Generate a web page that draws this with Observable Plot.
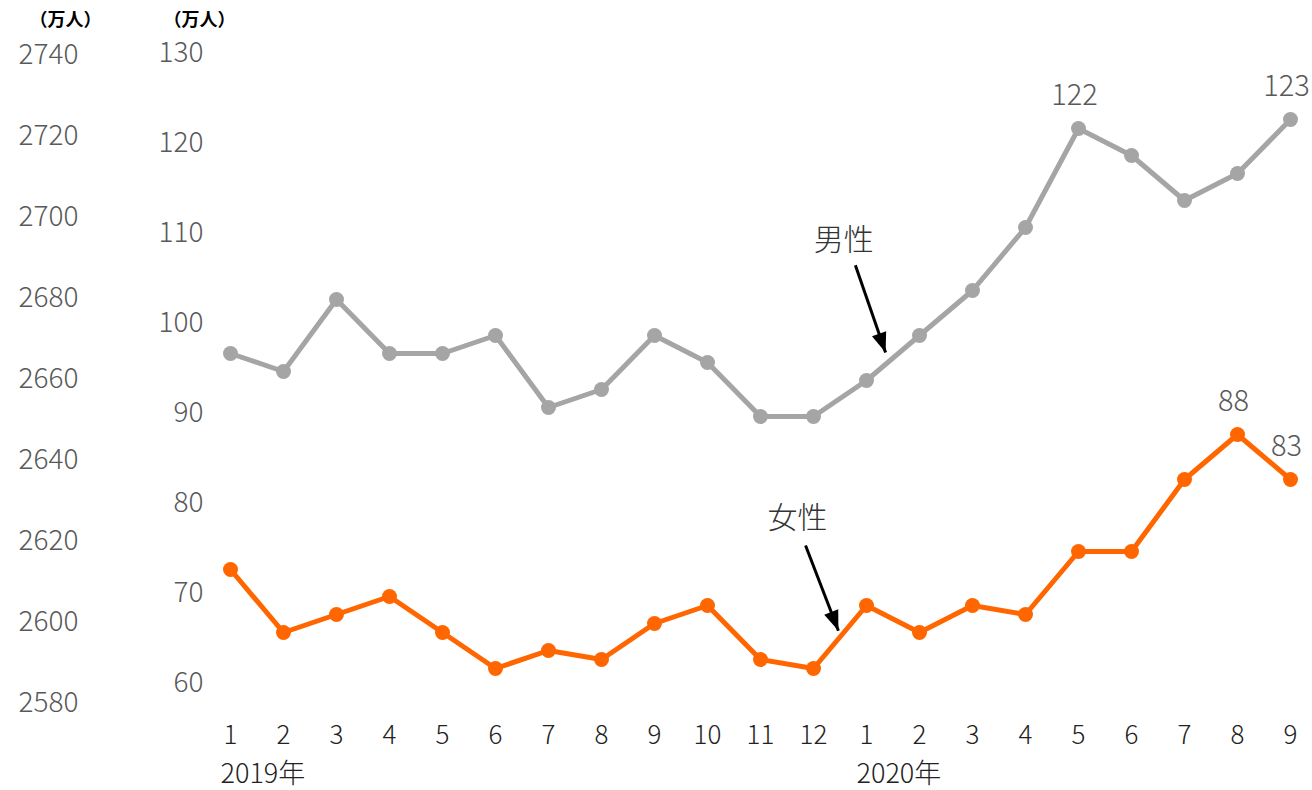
<!DOCTYPE html>
<html>
<head>
<meta charset="utf-8">
<script src="https://cdn.jsdelivr.net/npm/d3@7"></script>
<script src="https://cdn.jsdelivr.net/npm/@observablehq/plot@0.6"></script>
<style>
  html, body { margin: 0; padding: 0; background: #fff; }
  #wrap { position: relative; width: 1312px; height: 790px; }
  #wrap svg { position: absolute; left: 0; top: 0; }
</style>
</head>
<body>
<div id="wrap"></div>
<script>
// ---- data ----
const months = ["1","2","3","4","5","6","7","8","9","10","11","12","1","2","3","4","5","6","7","8","9"];
const years = [{i: 0, label: "2019年"}, {i: 12, label: "2020年"}];
const male =   [97, 95, 103, 97, 97, 99, 91, 93, 99, 96, 90, 90, 94, 99, 104, 111, 122, 119, 114, 117, 123];
const female = [73, 66, 68, 70, 66, 62, 64, 63, 67, 69, 63, 62, 69, 66, 69, 68, 75, 75, 83, 88, 83];
const innerTicks = [60, 70, 80, 90, 100, 110, 120, 130];
const outerTicks = [2580, 2600, 2620, 2640, 2660, 2680, 2700, 2720, 2740];
const unitLabel = "（万人）";
const valueLabels = [
  {i: 16, v: 122, series: "male"},
  {i: 20, v: 123, series: "male"},
  {i: 19, v: 88, series: "female"},
  {i: 20, v: 83, series: "female"}
];
const annotations = [
  {label: "男性", tx: 11.57, ty: 109.6, x1: 11.79, y1: 106.8, x2: 12.36, y2: 97.1, angle: 161},
  {label: "女性", tx: 10.70, ty: 78.7, x1: 10.85, y1: 75.67, x2: 11.47, y2: 66.2, angle: 159}
];

const FONT = "'Noto Sans CJK JP', 'Noto Sans', sans-serif";
const GRAY = "#A5A5A5";
const ORANGE = "#FF6600";
const idx = months.map((_, i) => i);
const maleData = male.map((v, i) => ({i, v}));
const femaleData = female.map((v, i) => ({i, v}));

const main = Plot.plot({
  width: 1312, height: 790,
  marginLeft: 230, marginRight: 22, marginTop: 56, marginBottom: 104,
  x: {domain: [0, 20], axis: null},
  y: {domain: [60, 130], axis: null},
  style: {fontFamily: FONT, background: "transparent", overflow: "visible"},
  marks: [
    // inner y tick labels
    Plot.text(innerTicks, {y: d => d, text: d => String(d), frameAnchor: "left", textAnchor: "end",
      dx: -27, dy: -3, fontSize: 28, fill: "#595959", fontWeight: 300}),
    // unit label for inner axis
    Plot.text([unitLabel], {text: d => d, frameAnchor: "top-left", textAnchor: "middle", lineAnchor: "middle",
      dx: -31, dy: -36, fontSize: 18, fontWeight: "bold", fill: "#000"}),
    // x tick labels
    Plot.text(idx, {x: i => i, text: i => months[i], frameAnchor: "bottom", dy: 57,
      fontSize: 26, fill: "#222", fontWeight: 300}),
    Plot.text(years, {x: "i", text: "label", frameAnchor: "bottom", dy: 96, dx: -10,
      textAnchor: "start", fontSize: 27, fill: "#222", fontWeight: 300}),
    // lines
    Plot.line(maleData, {x: "i", y: "v", stroke: GRAY, strokeWidth: 5}),
    Plot.dot(maleData, {x: "i", y: "v", r: 7.5, fill: GRAY}),
    Plot.line(femaleData, {x: "i", y: "v", stroke: ORANGE, strokeWidth: 5}),
    Plot.dot(femaleData, {x: "i", y: "v", r: 7.5, fill: ORANGE}),
    // value labels
    Plot.text(valueLabels, {x: "i", y: "v", text: d => String(d.v), dy: -33, dx: -4,
      fontSize: 29, fill: "#595959", fontWeight: 300}),
    // annotations
    Plot.text(annotations, {x: "tx", y: "ty", text: "label", fontSize: 30, fill: "#333", fontWeight: 300}),
    Plot.link(annotations, {x1: "x1", y1: "y1", x2: "x2", y2: "y2", stroke: "#000", strokeWidth: 3}),
    Plot.vector(annotations, {x: "x2", y: "y2", rotate: "angle", length: 20, anchor: "end",
      shape: "spike", r: 7.5, fill: "#000", stroke: "none"})
  ]
});

const outer = Plot.plot({
  width: 100, height: 790,
  marginLeft: 80, marginRight: 0, marginTop: 55, marginBottom: 87,
  x: {axis: null},
  y: {domain: [2580, 2740], axis: null},
  style: {fontFamily: FONT, background: "transparent", overflow: "visible"},
  marks: [
    Plot.text(outerTicks, {y: d => d, text: d => String(d), frameAnchor: "left", textAnchor: "end",
      dx: -2, fontSize: 28, fill: "#595959", fontWeight: 300}),
    Plot.text([unitLabel], {text: d => d, frameAnchor: "top-left", textAnchor: "middle", lineAnchor: "middle",
      dx: -15, dy: -35, fontSize: 18, fontWeight: "bold", fill: "#000"})
  ]
});

const wrap = document.getElementById("wrap");
wrap.appendChild(main);
wrap.appendChild(outer);
</script>
</body>
</html>
